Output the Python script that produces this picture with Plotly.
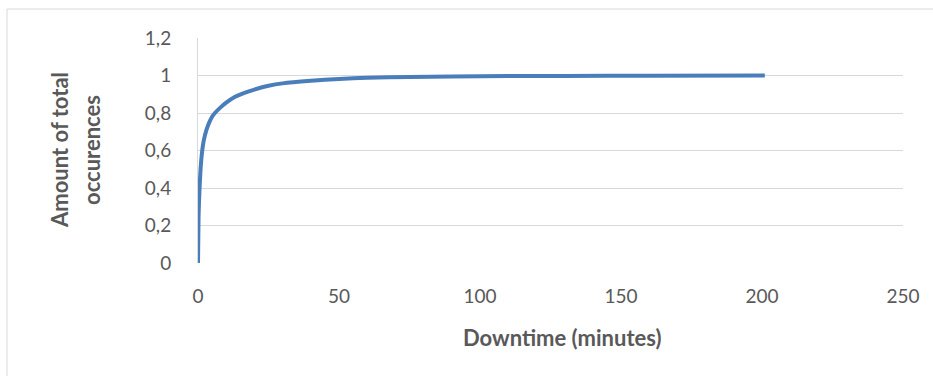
import plotly.graph_objects as go

downtime = [0, 0.2, 0.5, 1, 1.5, 2, 3, 4, 5, 6, 8, 10, 13, 16, 20, 25, 30, 40, 50, 60, 75, 90, 110, 130, 160, 201]
share = [0, 0.25, 0.38, 0.52, 0.6, 0.65, 0.71, 0.75, 0.78, 0.80, 0.83, 0.855, 0.885, 0.905, 0.925,
         0.945, 0.958, 0.972, 0.982, 0.988, 0.992, 0.995, 0.997, 0.998, 0.999, 1.0]
x_ticks = [0, 50, 100, 150, 200, 250]
y_ticks = [0, 0.2, 0.4, 0.6, 0.8, 1, 1.2]
y_labels = ["0", "0,2", "0,4", "0,6", "0,8", "1", "1,2"]
x_title = "Downtime (minutes)"
y_title_lines = ["Amount of total", "occurences"]

FONT = "Lato, 'Open Sans', sans-serif"
GREY = "#595959"
L, R, T, B = 198, 30, 38, 113
PW, PH = 933 - L - R, 376 - T - B


def px_x(p):
    return (p - L) / PW


def px_y(p):
    return (376 - B - p) / PH


fig = go.Figure(go.Scatter(x=downtime, y=share, mode="lines",
                           line=dict(color="#4a7ebb", width=4, shape="spline", smoothing=0.6)))

fig.update_layout(
    width=933, height=376,
    margin=dict(l=L, r=R, t=T, b=B),
    paper_bgcolor="white", plot_bgcolor="white",
    showlegend=False,
    font=dict(family=FONT, color=GREY, size=19),
    xaxis=dict(range=[0, 250], tickvals=x_ticks, showgrid=False, zeroline=False, showline=False,
               ticks="", ticklabelstandoff=20, tickfont=dict(size=19, color=GREY)),
    yaxis=dict(range=[0, 1.2], tickvals=y_ticks, ticktext=y_labels, showgrid=True, gridcolor="#d9d9d9",
               gridwidth=1, zeroline=False, showline=True, linecolor="#d9d9d9", linewidth=1,
               ticks="", ticklabelstandoff=22, tickfont=dict(size=19, color=GREY)),
    annotations=[
        dict(text="<b>%s</b>" % x_title, xref="paper", yref="paper", x=px_x(562), y=px_y(337),
             xanchor="center", yanchor="middle", showarrow=False, font=dict(size=22, color=GREY)),
        dict(text="<b>%s</b>" % y_title_lines[0], xref="paper", yref="paper", x=px_x(59), y=px_y(150),
             xanchor="center", yanchor="middle", textangle=-90, showarrow=False, font=dict(size=22, color=GREY)),
        dict(text="<b>%s</b>" % y_title_lines[1], xref="paper", yref="paper", x=px_x(91), y=px_y(150),
             xanchor="center", yanchor="middle", textangle=-90, showarrow=False, font=dict(size=22, color=GREY)),
    ],
    shapes=[dict(type="rect", xref="paper", yref="paper", x0=px_x(7), x1=px_x(945),
                 y0=px_y(390), y1=px_y(9), line=dict(color="#d9d9d9", width=1), layer="below")],
)

fig.write_html("out.html")
